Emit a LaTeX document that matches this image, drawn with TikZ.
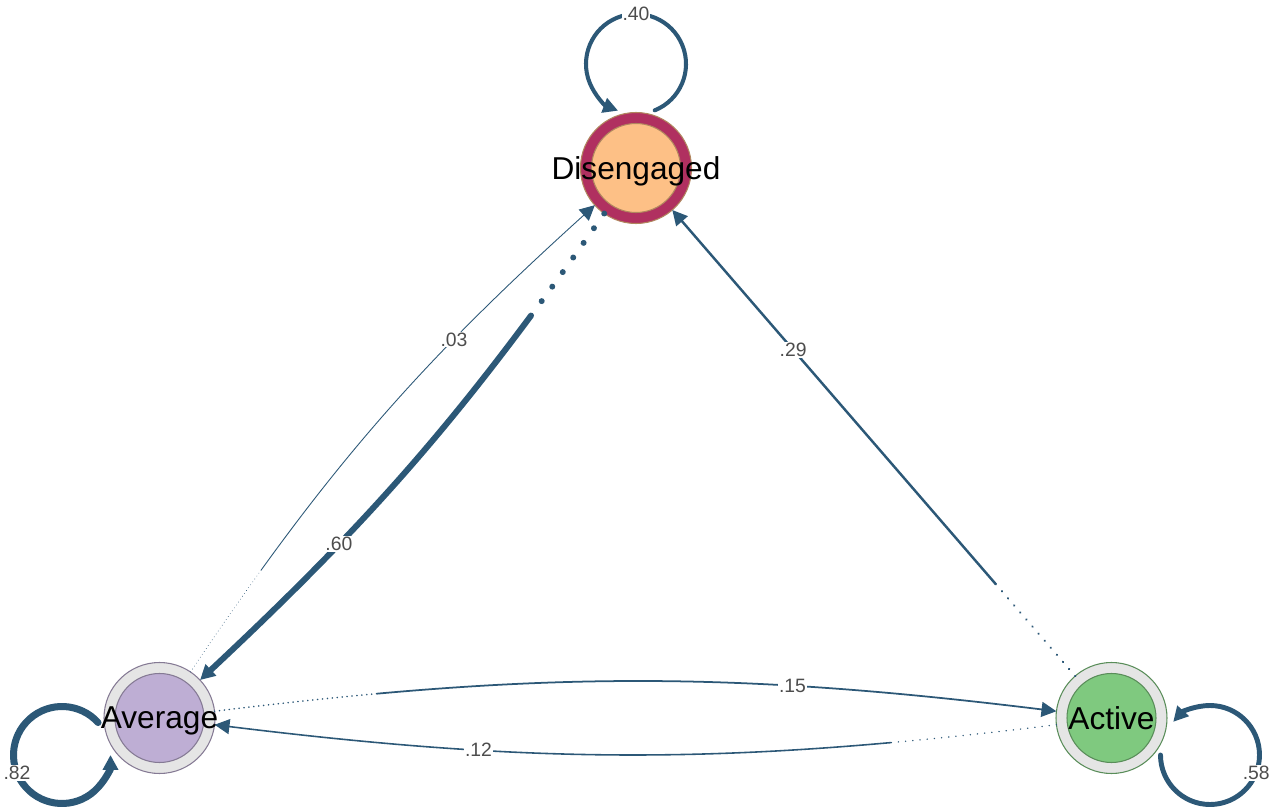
\documentclass[tikz,border=0pt]{standalone}
\usepackage{fontspec}
\setmainfont{Liberation Sans}
\usetikzlibrary{arrows.meta,calc}

\definecolor{edgeblue}{HTML}{2C5877}
\definecolor{labgray}{HTML}{4D4D4D}
\definecolor{ringgray}{HTML}{E5E5E5}
\definecolor{maroonring}{HTML}{B03060}
\definecolor{disfill}{HTML}{FDC086}
\definecolor{disline}{HTML}{B1865E}
\definecolor{avgfill}{HTML}{BEAED4}
\definecolor{avgline}{HTML}{857A94}
\definecolor{actfill}{HTML}{7FC97F}
\definecolor{actline}{HTML}{598D59}

\tikzset{
    state/.style n args={3}{circle, minimum size=2.22cm, inner sep=0pt, outer sep=0pt,
        draw=#3, line width=0.6pt, fill=#1, text depth=0pt,
        path picture={\draw[draw=#3, fill=#2, line width=0.6pt] (path picture bounding box.center) circle (0.89cm);},
        font=\fontsize{18}{18}\selectfont},
    tr/.style={draw=edgeblue, line cap=round, -{Triangle[length=8.5pt,width=8.5pt]}},
    wlab/.style={fill=white, text=labgray, inner sep=0.6pt, font=\fontsize{11}{11}\selectfont},
    dotstart/.code 2 args={%
        \gdef\dashlist{}%
        \foreach \k in {1,...,#1}{\xdef\dashlist{\dashlist on 0.01pt off #2 }}%
        \pgfkeysalso{/tikz/dash pattern/.expanded={\dashlist on 4000pt off 1pt}}},
}

\begin{document}
\begin{tikzpicture}
    \useasboundingbox (0,0) rectangle (25.56,16.18);

    % States
    \node[state={maroonring}{disfill}{disline}] (dis) at (12.72,12.82) {\makebox[0pt]{Disengaged}};
    \node[state={ringgray}{avgfill}{avgline}] (avg) at (3.19,1.82) {\makebox[0pt]{Average}};
    \node[state={ringgray}{actfill}{actline}] (act) at (22.23,1.82) {\makebox[0pt]{Active}};

    % Loop centres
    \coordinate (l40) at ($(dis)+(0,2.08)$);
    \coordinate (l82) at ($(avg)+(-1.95,-0.74)$);
    \coordinate (l58) at ($(act)+(1.97,-0.74)$);

    % Self loops
    \draw[tr, line width=2.3pt] (l40) ++(-68:1) arc[start angle=-68, end angle=249, radius=1];
    \draw[tr, line width=4pt] (l82) ++(42:0.97) arc[start angle=42, end angle=360, radius=0.97];
    \draw[tr, line width=2.8pt] (l58) ++(180:0.99) arc[start angle=180, end angle=498, radius=0.99];

    % Loop labels
    \node[wlab] (n40) at ($(l40)+(90:1)$) {.40};
    \node[wlab] (n82) at ($(l82)+(202:0.97)$) {.82};
    \node[wlab] (n58) at ($(l58)+(339:0.99)$) {.58};

    % Transitions
    \draw[tr, line width=3.4pt, dotstart={7}{10.2pt}] (dis) to[bend left=6] node[wlab, pos=0.7] (n60) {.60} (avg);
    \draw[tr, line width=0.5pt, dotstart={35}{2pt}] (avg) to[bend left=7] node[wlab, pos=0.7] (n03) {.03} (dis);
    \draw[tr, line width=1.4pt, dotstart={13}{5.3pt}] (act) -- node[wlab, pos=0.7] (n29) {.29} (dis);
    \draw[tr, line width=1pt, dotstart={33}{2.8pt}] (avg) to[bend left=7] node[wlab, pos=0.7] (n15) {.15} (act);
    \draw[tr, line width=0.9pt, dotstart={23}{4.1pt}] (act) to[bend left=7] node[wlab, pos=0.7] (n12) {.12} (avg);
\end{tikzpicture}
\end{document}
